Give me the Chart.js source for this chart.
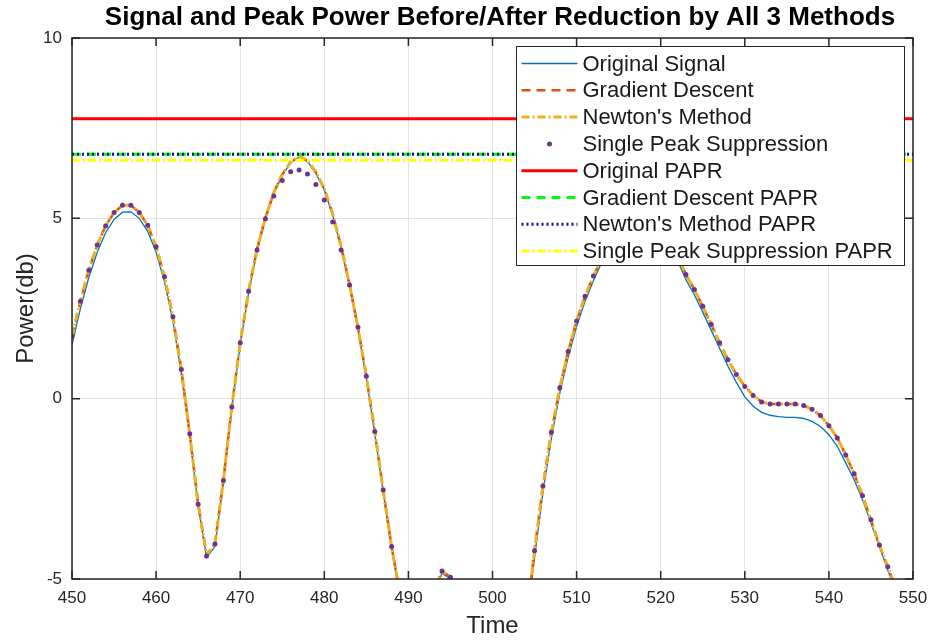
<!DOCTYPE html>
<html>
<head>
<meta charset="utf-8">
<script src="https://cdn.jsdelivr.net/npm/chart.js@4.4.1/dist/chart.umd.min.js"></script>
<style>
  html, body { margin: 0; padding: 0; background: #ffffff; }
  #chart { display: block; }
</style>
</head>
<body>
<canvas id="chart" width="930" height="641"></canvas>
<script>
const time = [
  450, 451, 452, 453, 454, 455, 456, 457, 458, 459,
  460, 461, 462, 463, 464, 465, 466, 467, 468, 469,
  470, 471, 472, 473, 474, 475, 476, 477, 478, 479,
  480, 481, 482, 483, 484, 485, 486, 487, 488, 489,
  490, 491, 492, 493, 494, 495, 496, 497, 498, 499,
  500, 501, 502, 503, 504, 505, 506, 507, 508, 509,
  510, 511, 512, 513, 514, 515, 516, 517, 518, 519,
  520, 521, 522, 523, 524, 525, 526, 527, 528, 529,
  530, 531, 532, 533, 534, 535, 536, 537, 538, 539,
  540, 541, 542, 543, 544, 545, 546, 547, 548, 549,
  550,
];

const originalSignal = [
  1.50, 2.50, 3.36, 4.06, 4.60, 4.97, 5.17, 5.18, 5.00, 4.64,
  4.06, 3.24, 2.14, 0.70, -1.05, -2.98, -4.40, -4.10, -2.33, -0.28,
  1.50, 2.93, 4.10, 4.98, 5.69, 6.19, 6.54, 6.70, 6.58, 6.25,
  5.79, 5.08, 4.18, 3.12, 1.93, 0.57, -0.96, -2.58, -4.15, -5.5,
  -7.5, -8.4, -7.1, -5.4, -4.84, -5.0, -5.8, -7.3, -9.1, -10.6,
  -10.9, -9.7, -8.2, -7.0, -6.3, -4.40, -2.60, -1.10, 0.15, 1.15,
  2.00, 2.70, 3.27, 3.78, 4.20, 4.53, 4.76, 4.88, 4.90, 4.80,
  4.58, 4.27, 3.83, 3.30, 2.88, 2.40, 1.90, 1.40, 0.90, 0.45,
  0.05, -0.21, -0.38, -0.46, -0.50, -0.52, -0.52, -0.55, -0.63, -0.77,
  -1.00, -1.32, -1.78, -2.25, -2.80, -3.45, -4.10, -4.75, -5.4, -6.1,
  -6.9,
];

const gradientDescent = [
  1.73, 2.70, 3.56, 4.26, 4.79, 5.16, 5.36, 5.36, 5.16, 4.81,
  4.21, 3.38, 2.27, 0.81, -0.97, -2.93, -4.33, -4.03, -2.27, -0.23,
  1.55, 2.98, 4.14, 5.02, 5.72, 6.22, 6.56, 6.72, 6.60, 6.28,
  5.82, 5.12, 4.22, 3.17, 1.98, 0.62, -0.91, -2.53, -4.10, -5.4,
  -7.4, -8.3, -7.0, -5.35, -4.78, -4.95, -5.7, -7.2, -9.0, -10.5,
  -10.8, -9.6, -8.1, -6.9, -6.2, -4.22, -2.42, -0.93, 0.30, 1.31,
  2.15, 2.84, 3.40, 3.90, 4.32, 4.65, 4.88, 5.00, 5.02, 4.92,
  4.72, 4.42, 3.98, 3.44, 3.03, 2.56, 2.06, 1.55, 1.08, 0.67,
  0.34, 0.09, -0.09, -0.15, -0.15, -0.15, -0.15, -0.19, -0.29, -0.47,
  -0.75, -1.09, -1.56, -2.08, -2.69, -3.36, -4.06, -4.66, -5.3, -6.0,
  -6.8,
];

const newtonsMethod = [
  1.73, 2.70, 3.56, 4.26, 4.79, 5.16, 5.36, 5.36, 5.16, 4.81,
  4.21, 3.38, 2.27, 0.81, -0.97, -2.93, -4.33, -4.03, -2.27, -0.23,
  1.55, 2.98, 4.14, 5.02, 5.72, 6.22, 6.56, 6.72, 6.60, 6.28,
  5.82, 5.12, 4.22, 3.17, 1.98, 0.62, -0.91, -2.53, -4.10, -5.4,
  -7.4, -8.3, -7.0, -5.35, -4.78, -4.95, -5.7, -7.2, -9.0, -10.5,
  -10.8, -9.6, -8.1, -6.9, -6.2, -4.22, -2.42, -0.93, 0.30, 1.31,
  2.15, 2.84, 3.40, 3.90, 4.32, 4.65, 4.88, 5.00, 5.02, 4.92,
  4.72, 4.42, 3.98, 3.44, 3.03, 2.56, 2.06, 1.55, 1.08, 0.67,
  0.34, 0.09, -0.09, -0.15, -0.15, -0.15, -0.15, -0.19, -0.29, -0.47,
  -0.75, -1.09, -1.56, -2.08, -2.69, -3.36, -4.06, -4.66, -5.3, -6.0,
  -6.8,
];

const singlePeakSuppression = [
  1.73, 2.70, 3.56, 4.26, 4.79, 5.16, 5.36, 5.36, 5.16, 4.81,
  4.21, 3.38, 2.27, 0.81, -0.97, -2.93, -4.36, -4.03, -2.27, -0.23,
  1.55, 2.98, 4.12, 4.99, 5.62, 6.05, 6.29, 6.34, 6.23, 5.94,
  5.51, 4.90, 4.12, 3.15, 1.98, 0.62, -0.91, -2.53, -4.10, -5.4,
  -7.4, -8.3, -7.0, -5.35, -4.78, -4.95, -5.7, -7.2, -9.0, -10.5,
  -10.8, -9.6, -8.1, -6.9, -6.2, -4.22, -2.42, -0.93, 0.30, 1.31,
  2.15, 2.84, 3.40, 3.90, 4.32, 4.65, 4.88, 5.00, 5.02, 4.92,
  4.72, 4.42, 3.98, 3.44, 3.03, 2.56, 2.06, 1.55, 1.08, 0.67,
  0.34, 0.09, -0.09, -0.15, -0.15, -0.15, -0.15, -0.19, -0.29, -0.47,
  -0.75, -1.09, -1.56, -2.08, -2.69, -3.36, -4.06, -4.66, -5.3, -6.0,
  -6.8,
];

// peak power levels (flat lines across the window)
const paprRange = [450, 550];
const originalPapr = 7.76;
const gradientPapr = 6.78;
const newtonPapr = 6.78;
const singlePeakPapr = 6.61;

const xTicks = [450, 460, 470, 480, 490, 500, 510, 520, 530, 540, 550];
const yTicks = [-5, 0, 5, 10];

const chartTitle = 'Signal and Peak Power Before/After Reduction by All 3 Methods';

const FONT = '"Liberation Sans", Arial, Helvetica, sans-serif';
const AXIS_COLOR = '#262626';

function toPoints(values) {
  return values.map((v, i) => ({ x: time[i], y: v }));
}

function flatLine(level) {
  return paprRange.map((x) => ({ x, y: level }));
}

const datasets = [
  {
    label: 'Original Signal',
    data: toPoints(originalSignal),
    borderColor: '#0072BD',
    borderWidth: 1.3,
    pointRadius: 0,
  },
  {
    label: 'Gradient Descent',
    data: toPoints(gradientDescent),
    borderColor: '#D95319',
    borderWidth: 2.5,
    borderDash: [9, 6],
    pointRadius: 0,
  },
  {
    label: "Newton's Method",
    data: toPoints(newtonsMethod),
    borderColor: '#EDB120',
    borderWidth: 3,
    borderDash: [8, 3, 2, 3],
    pointRadius: 0,
  },
  {
    label: 'Single Peak Suppression',
    data: toPoints(singlePeakSuppression),
    borderColor: '#7E2F8E',
    backgroundColor: '#6a3592',
    showLine: false,
    pointRadius: 2.5,
    pointBorderWidth: 0,
    isMarker: true,
  },
  {
    label: 'Original PAPR',
    data: flatLine(originalPapr),
    borderColor: '#FF0000',
    borderWidth: 3,
    pointRadius: 0,
  },
  {
    label: 'Gradient Descent PAPR',
    data: flatLine(gradientPapr),
    borderColor: '#00FF00',
    borderWidth: 3,
    borderDash: [9, 6],
    pointRadius: 0,
  },
  {
    label: "Newton's Method PAPR",
    data: flatLine(newtonPapr),
    borderColor: '#1010A0',
    borderWidth: 3,
    borderDash: [2, 3],
    pointRadius: 0,
  },
  {
    label: 'Single Peak Suppression PAPR',
    data: flatLine(singlePeakPapr),
    borderColor: '#FFFF00',
    borderWidth: 3,
    borderDash: [8, 3, 2, 3],
    pointRadius: 0,
  },
];

// later series on top, like the original plot
datasets.forEach((ds, i) => {
  ds.order = datasets.length - i;
  ds.fill = false;
  ds.tension = 0;
});

const axesBoxPlugin = {
  id: 'axesBox',
  afterDatasetsDraw(chart) {
    const { ctx, chartArea, scales } = chart;
    const { left, right, top, bottom } = chartArea;
    const tickLen = 8;
    ctx.save();
    ctx.strokeStyle = AXIS_COLOR;
    ctx.lineWidth = 1.5;
    ctx.strokeRect(left, top, right - left, bottom - top);
    ctx.beginPath();
    for (const t of xTicks) {
      const px = scales.x.getPixelForValue(t);
      ctx.moveTo(px, bottom);
      ctx.lineTo(px, bottom - tickLen);
      ctx.moveTo(px, top);
      ctx.lineTo(px, top + tickLen);
    }
    for (const t of yTicks) {
      const py = scales.y.getPixelForValue(t);
      ctx.moveTo(left, py);
      ctx.lineTo(left + tickLen, py);
      ctx.moveTo(right, py);
      ctx.lineTo(right - tickLen, py);
    }
    ctx.stroke();
    ctx.restore();
  },
};

// title sits a bit right of the canvas centre in the original
const titlePlugin = {
  id: 'plotTitle',
  afterDraw(chart) {
    const { ctx } = chart;
    ctx.save();
    ctx.font = `bold 26px ${FONT}`;
    ctx.fillStyle = '#000000';
    ctx.textAlign = 'center';
    ctx.textBaseline = 'middle';
    ctx.fillText(chartTitle, 500, 18);
    ctx.restore();
  },
};

const insideLegendPlugin = {
  id: 'insideLegend',
  afterDraw(chart) {
    const { ctx, chartArea } = chart;
    const items = chart.data.datasets;
    const fontSize = 22;
    const rowH = 26.8;
    const sampleLen = 56;
    ctx.save();
    ctx.font = `${fontSize}px ${FONT}`;
    let maxText = 0;
    for (const ds of items) maxText = Math.max(maxText, ctx.measureText(ds.label).width);
    const boxW = Math.round(5 + sampleLen + 5 + maxText + 12);
    const boxH = Math.round(rowH * items.length + 5);
    const boxX = Math.round(chartArea.right - 9 - boxW) + 0.5;
    const boxY = Math.round(chartArea.top + 8) + 0.5;
    ctx.fillStyle = '#ffffff';
    ctx.fillRect(boxX, boxY, boxW, boxH);
    ctx.strokeStyle = AXIS_COLOR;
    ctx.lineWidth = 1;
    ctx.strokeRect(boxX, boxY, boxW, boxH);

    items.forEach((ds, i) => {
      const cy = boxY + 17 + i * rowH;
      const x0 = boxX + 5;
      if (ds.isMarker) {
        ctx.fillStyle = ds.backgroundColor;
        ctx.beginPath();
        ctx.arc(x0 + sampleLen / 2, cy, ds.pointRadius, 0, Math.PI * 2);
        ctx.fill();
      } else {
        ctx.strokeStyle = ds.borderColor;
        ctx.lineWidth = ds.borderWidth;
        ctx.setLineDash(ds.borderDash || []);
        ctx.beginPath();
        ctx.moveTo(x0, cy);
        ctx.lineTo(x0 + sampleLen, cy);
        ctx.stroke();
        ctx.setLineDash([]);
      }
      ctx.fillStyle = '#1a1a1a';
      ctx.textBaseline = 'middle';
      ctx.textAlign = 'left';
      ctx.fillText(ds.label, x0 + sampleLen + 5, cy + 1);
    });
    ctx.restore();
  },
};

new Chart(document.getElementById('chart'), {
  type: 'line',
  data: { datasets },
  plugins: [axesBoxPlugin, insideLegendPlugin, titlePlugin],
  options: {
    responsive: false,
    animation: false,
    devicePixelRatio: 1,
    layout: { padding: { left: 0, right: 17, top: 38, bottom: 0 } },
    plugins: {
      legend: { display: false },
      tooltip: { enabled: false },
      title: { display: false },
    },
    scales: {
      x: {
        type: 'linear',
        min: 450,
        max: 550,
        afterBuildTicks(scale) {
          scale.ticks = xTicks.map((v) => ({ value: v }));
        },
        afterFit(scale) {
          scale.height = 62;
          scale.paddingLeft = 0;
          scale.paddingRight = 0;
        },
        grid: { color: '#e3e3e3', lineWidth: 1, drawTicks: false },
        border: { display: false },
        ticks: {
          color: AXIS_COLOR,
          font: { family: FONT, size: 17 },
          padding: 9,
          maxRotation: 0,
        },
        title: {
          display: true,
          text: 'Time',
          color: AXIS_COLOR,
          font: { family: FONT, size: 24 },
          padding: { top: 0, bottom: 0 },
        },
      },
      y: {
        type: 'linear',
        min: -5,
        max: 10,
        afterBuildTicks(scale) {
          scale.ticks = yTicks.map((v) => ({ value: v }));
        },
        afterFit(scale) {
          scale.width = 72;
        },
        grid: { color: '#e3e3e3', lineWidth: 1, drawTicks: false },
        border: { display: false },
        ticks: {
          color: AXIS_COLOR,
          font: { family: FONT, size: 17 },
          padding: 10,
        },
        title: {
          display: true,
          text: 'Power(db)',
          color: AXIS_COLOR,
          font: { family: FONT, size: 24 },
          padding: { top: 12, bottom: 0 },
        },
      },
    },
  },
});
</script>
</body>
</html>
